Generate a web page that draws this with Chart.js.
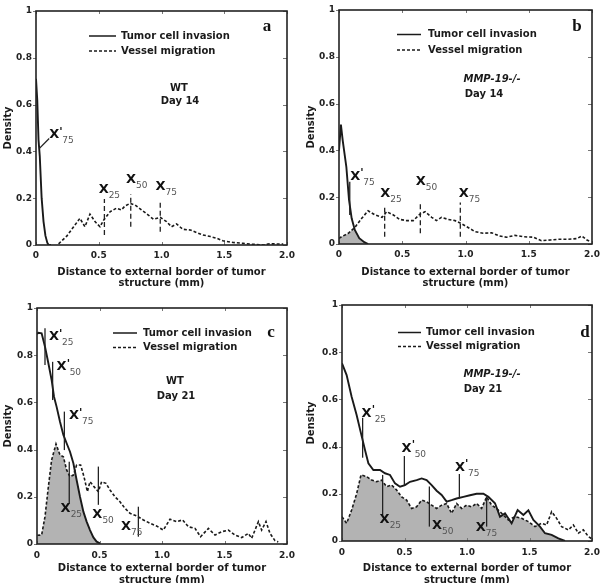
<!DOCTYPE html>
<html>
<head>
<meta charset="utf-8">
<script src="https://cdn.jsdelivr.net/npm/chart.js@4.4.0/dist/chart.umd.min.js"></script>
<style>
html, body { margin: 0; padding: 0; background: #fff; overflow: hidden; }
#wrap { position: relative; width: 606px; height: 583px; overflow: hidden; background: #fff; }
.panel { position: absolute; }
</style>
</head>
<body>
<div id="wrap">
    <div class="panel" style="left:0;top:0"><canvas id="chart-a" width="303" height="290"></canvas></div>
    <div class="panel" style="left:303px;top:0"><canvas id="chart-b" width="303" height="290"></canvas></div>
    <div class="panel" style="left:0;top:290px"><canvas id="chart-c" width="303" height="300"></canvas></div>
    <div class="panel" style="left:303px;top:290px"><canvas id="chart-d" width="303" height="300"></canvas></div>
</div>
<script>
// axis ticks shared by all four panels
const xTickValues = [0, 0.5, 1.0, 1.5, 2.0];
const xTickLabels = ["0", "0.5", "1.0", "1.5", "2.0"];
const yTickValues = [0, 0.2, 0.4, 0.6, 0.8, 1];
const yTickLabels = ["0", "0.2", "0.4", "0.6", "0.8", "1"];
const xTitleLines = ["Distance to external border of tumor", "structure (mm)"];
const yTitle = "Density";
const seriesNames = ["Tumor cell invasion", "Vessel migration"];

// panel a : WT, day 14
const aTumorX = [0, 0.01, 0.02, 0.03, 0.045, 0.06, 0.075, 0.09, 0.1, 0.12];
const aTumorY = [0.71, 0.62, 0.45, 0.38, 0.2, 0.1, 0.04, 0.01, 0, 0];
const aVesselX = [0.18, 0.245, 0.30, 0.35, 0.39, 0.43, 0.47, 0.51, 0.54, 0.59, 0.64, 0.68, 0.71, 0.75, 0.79, 0.84, 0.895, 0.935, 0.99, 1.04, 1.08, 1.12, 1.17, 1.23, 1.28, 1.33, 1.39, 1.44, 1.49, 1.57, 1.65, 1.73, 1.81, 1.86, 1.97];
const aVesselY = [0.005, 0.038, 0.078, 0.114, 0.078, 0.132, 0.1, 0.078, 0.107, 0.142, 0.157, 0.15, 0.167, 0.178, 0.171, 0.15, 0.128, 0.11, 0.118, 0.1, 0.078, 0.09, 0.067, 0.064, 0.053, 0.043, 0.036, 0.029, 0.018, 0.011, 0.007, 0.003, 0, 0.005, 0.004];

// panel b : MMP-19-/-, day 14
const bTumorX = [0, 0.015, 0.03, 0.058, 0.079, 0.1, 0.125, 0.16, 0.2, 0.23];
const bTumorY = [0.4, 0.51, 0.44, 0.33, 0.19, 0.11, 0.06, 0.025, 0.008, 0];
const bVesselX = [0, 0.02, 0.074, 0.126, 0.18, 0.23, 0.285, 0.34, 0.377, 0.43, 0.48, 0.535, 0.587, 0.64, 0.68, 0.733, 0.77, 0.81, 0.864, 0.917, 0.964, 1.01, 1.075, 1.14, 1.207, 1.27, 1.326, 1.39, 1.457, 1.536, 1.60, 1.67, 1.73, 1.81, 1.88, 1.92, 1.96, 1.99];
const bVesselY = [0.024, 0.031, 0.046, 0.071, 0.11, 0.142, 0.124, 0.114, 0.138, 0.124, 0.105, 0.1, 0.1, 0.128, 0.138, 0.114, 0.1, 0.114, 0.105, 0.1, 0.088, 0.074, 0.053, 0.046, 0.048, 0.034, 0.029, 0.037, 0.031, 0.029, 0.014, 0.017, 0.02, 0.02, 0.023, 0.034, 0.017, 0.01];

// panel c : WT, day 21
const cTumorX = [0, 0.011, 0.037, 0.064, 0.091, 0.117, 0.136, 0.157, 0.184, 0.211, 0.237, 0.264, 0.291, 0.317, 0.344, 0.371, 0.397, 0.424, 0.451, 0.477, 0.504];
const cTumorY = [0.89, 0.895, 0.893, 0.836, 0.766, 0.695, 0.624, 0.581, 0.518, 0.462, 0.427, 0.391, 0.342, 0.271, 0.2, 0.137, 0.095, 0.059, 0.028, 0.01, 0.003];
const cVesselX = [0.003, 0.037, 0.064, 0.091, 0.117, 0.152, 0.184, 0.211, 0.237, 0.264, 0.291, 0.317, 0.349, 0.376, 0.403, 0.424, 0.456, 0.491, 0.517, 0.552, 0.584, 0.624, 0.664, 0.704, 0.744, 0.797, 0.851, 0.904, 0.957, 1.011, 1.064, 1.117, 1.165, 1.211, 1.264, 1.309, 1.371, 1.424, 1.477, 1.531, 1.584, 1.637, 1.691, 1.717, 1.744, 1.771, 1.797, 1.832, 1.864, 1.904, 1.93];
const cVesselY = [0.037, 0.038, 0.116, 0.243, 0.356, 0.424, 0.377, 0.37, 0.314, 0.285, 0.292, 0.335, 0.335, 0.285, 0.222, 0.264, 0.243, 0.222, 0.264, 0.257, 0.229, 0.2, 0.179, 0.151, 0.13, 0.119, 0.102, 0.088, 0.076, 0.059, 0.105, 0.095, 0.102, 0.073, 0.066, 0.031, 0.066, 0.038, 0.052, 0.059, 0.038, 0.027, 0.045, 0.024, 0.059, 0.095, 0.059, 0.095, 0.045, 0.014, 0.009];

// panel d : MMP-19-/-, day 21
const dTumorX = [0, 0.037, 0.077, 0.117, 0.152, 0.184, 0.211, 0.251, 0.304, 0.344, 0.384, 0.424, 0.464, 0.504, 0.544, 0.597, 0.637, 0.677, 0.717, 0.757, 0.797, 0.837, 0.877, 0.917, 0.971, 1.024, 1.077, 1.131, 1.171, 1.224, 1.264, 1.304, 1.357, 1.405, 1.451, 1.491, 1.531, 1.584, 1.624, 1.677, 1.731, 1.784];
const dTumorY = [0.753, 0.703, 0.611, 0.534, 0.456, 0.386, 0.329, 0.301, 0.301, 0.287, 0.28, 0.244, 0.23, 0.237, 0.251, 0.258, 0.265, 0.258, 0.237, 0.213, 0.195, 0.167, 0.173, 0.18, 0.187, 0.194, 0.2, 0.2, 0.187, 0.16, 0.103, 0.117, 0.075, 0.131, 0.11, 0.13, 0.089, 0.061, 0.033, 0.026, 0.011, 0];
const dVesselX = [0, 0.037, 0.077, 0.117, 0.152, 0.197, 0.237, 0.277, 0.317, 0.357, 0.397, 0.437, 0.477, 0.517, 0.557, 0.597, 0.637, 0.677, 0.717, 0.757, 0.797, 0.837, 0.877, 0.917, 0.957, 0.997, 1.037, 1.077, 1.117, 1.157, 1.197, 1.237, 1.277, 1.331, 1.384, 1.437, 1.491, 1.544, 1.597, 1.637, 1.677, 1.717, 1.757, 1.811, 1.851, 1.891, 1.931, 1.971, 1.997];
const dVesselY = [0.103, 0.075, 0.131, 0.2, 0.28, 0.273, 0.258, 0.251, 0.258, 0.23, 0.237, 0.216, 0.187, 0.173, 0.138, 0.145, 0.173, 0.166, 0.152, 0.138, 0.152, 0.159, 0.117, 0.159, 0.138, 0.152, 0.145, 0.159, 0.138, 0.187, 0.152, 0.138, 0.117, 0.089, 0.103, 0.096, 0.082, 0.061, 0.075, 0.068, 0.124, 0.096, 0.061, 0.047, 0.068, 0.033, 0.047, 0.019, 0.01];

// quantile markers: x = quantile position, y range of the tick line
// kind "t" = tumor quantile (X'), "v" = vessel quantile (X)
const aQuantiles = [
    {kind: "t", sub: "75", x0: 0.027, y0: 0.413, x1: 0.105, y1: 0.455, lx: 0.145, ly: 0.47},
    {kind: "v", sub: "25", x0: 0.545, y0: 0.043, x1: 0.545, y1: 0.197, lx: 0.539, ly: 0.235},
    {kind: "v", sub: "50", x0: 0.755, y0: 0.078, x1: 0.755, y1: 0.217, lx: 0.757, ly: 0.278},
    {kind: "v", sub: "75", x0: 0.99, y0: 0.057, x1: 0.99, y1: 0.188, lx: 0.993, ly: 0.249},
];
const bQuantiles = [
    {kind: "t", sub: "75", x0: 0.085, y0: 0.124, x1: 0.085, y1: 0.266, lx: 0.129, ly: 0.288},
    {kind: "v", sub: "25", x0: 0.361, y0: 0.031, x1: 0.361, y1: 0.167, lx: 0.366, ly: 0.217},
    {kind: "v", sub: "50", x0: 0.643, y0: 0.046, x1: 0.643, y1: 0.181, lx: 0.646, ly: 0.266},
    {kind: "v", sub: "75", x0: 0.959, y0: 0.031, x1: 0.959, y1: 0.177, lx: 0.986, ly: 0.214},
];
const cQuantiles = [
    {kind: "t", sub: "25", x0: 0.064, y0: 0.759, x1: 0.064, y1: 0.914, lx: 0.136, ly: 0.878},
    {kind: "t", sub: "50", x0: 0.125, y0: 0.61, x1: 0.125, y1: 0.772, lx: 0.197, ly: 0.751},
    {kind: "t", sub: "75", x0: 0.219, y0: 0.398, x1: 0.219, y1: 0.561, lx: 0.296, ly: 0.542},
    {kind: "v", sub: "25", x0: 0.258, y0: 0.172, x1: 0.258, y1: 0.349, lx: 0.229, ly: 0.151},
    {kind: "v", sub: "50", x0: 0.491, y0: 0.166, x1: 0.491, y1: 0.328, lx: 0.483, ly: 0.123},
    {kind: "v", sub: "75", x0: 0.811, y0: 0.031, x1: 0.811, y1: 0.158, lx: 0.712, ly: 0.073},
];
const dQuantiles = [
    {kind: "t", sub: "25", x0: 0.165, y0: 0.353, x1: 0.165, y1: 0.522, lx: 0.197, ly: 0.541},
    {kind: "t", sub: "50", x0: 0.499, y0: 0.237, x1: 0.499, y1: 0.36, lx: 0.517, ly: 0.393},
    {kind: "t", sub: "75", x0: 0.939, y0: 0.18, x1: 0.939, y1: 0.284, lx: 0.944, ly: 0.311},
    {kind: "v", sub: "25", x0: 0.325, y0: 0.109, x1: 0.325, y1: 0.28, lx: 0.341, ly: 0.089},
    {kind: "v", sub: "50", x0: 0.699, y0: 0.061, x1: 0.699, y1: 0.231, lx: 0.76, ly: 0.064},
    {kind: "v", sub: "75", x0: 1.157, y0: 0.061, x1: 1.157, y1: 0.187, lx: 1.11, ly: 0.058},
];

const FONT = "'DejaVu Sans', Verdana, sans-serif";
const INK = "#1a1a1a";
const SHADE = "#b3b3b3";

function toPoints(xs, ys){
    return xs.map((x, i) => ({x: x, y: ys[i]}));
};

// path of the area between a series and the zero line
function areaPath(ctx, xScale, yScale, xs, ys){
    const base = yScale.getPixelForValue(0);
    ctx.beginPath();
    ctx.moveTo(xScale.getPixelForValue(xs[0]), base);
    for (let i = 0; i < xs.length; i++){
        ctx.lineTo(xScale.getPixelForValue(xs[i]), yScale.getPixelForValue(ys[i]));
    };
    ctx.lineTo(xScale.getPixelForValue(xs[xs.length - 1]), base);
    ctx.closePath();
};

function makePanel(canvasId, panel){
    const canvas = document.getElementById(canvasId);
    const W = canvas.width, H = canvas.height;
    const box = panel.box;

    const decor = {
        id: "panelDecor",
        beforeDatasetsDraw(chart){
            // grey overlap of the two densities
            const ctx = chart.ctx, xs = chart.scales.x, ys = chart.scales.y, area = chart.chartArea;
            ctx.save();
            ctx.beginPath();
            ctx.rect(area.left, area.top, area.right - area.left, area.bottom - area.top);
            ctx.clip();
            areaPath(ctx, xs, ys, panel.tumorX, panel.tumorY);
            ctx.clip();
            areaPath(ctx, xs, ys, panel.vesselX, panel.vesselY);
            ctx.fillStyle = SHADE;
            ctx.fill();
            ctx.restore();
        },
        afterDatasetsDraw(chart){
            const ctx = chart.ctx, xs = chart.scales.x, ys = chart.scales.y;
            ctx.save();
            panel.quantiles.forEach(q => {
                ctx.beginPath();
                ctx.strokeStyle = "#222";
                ctx.lineWidth = 1.3;
                ctx.setLineDash(q.kind === "v" && panel.dashedVesselMarks ? [5, 3] : []);
                ctx.moveTo(xs.getPixelForValue(q.x0), ys.getPixelForValue(q.y0));
                ctx.lineTo(xs.getPixelForValue(q.x1), ys.getPixelForValue(q.y1));
                ctx.stroke();

                // label X / X' with subscript
                const lx = xs.getPixelForValue(q.lx), ly = ys.getPixelForValue(q.ly);
                ctx.setLineDash([]);
                ctx.fillStyle = "#111";
                ctx.font = "bold 13px " + FONT;
                ctx.textAlign = "center";
                ctx.textBaseline = "middle";
                ctx.fillText("X", lx, ly);
                let cursor = lx + 5;
                if (q.kind === "t"){
                    ctx.font = "bold 11px " + FONT;
                    ctx.textAlign = "left";
                    ctx.fillText("'", cursor, ly - 3);
                    cursor += 3;
                };
                ctx.font = "9px " + FONT;
                ctx.textAlign = "left";
                ctx.fillStyle = "#555";
                ctx.fillText(q.sub, cursor, ly + 6);
            });
            ctx.restore();
        },
        afterDraw(chart){
            const ctx = chart.ctx, xs = chart.scales.x, ys = chart.scales.y, area = chart.chartArea;
            ctx.save();
            // inward tick marks on all sides
            ctx.strokeStyle = "#777";
            ctx.lineWidth = 1;
            xTickValues.forEach(v => {
                const px = Math.round(xs.getPixelForValue(v)) + 0.5;
                ctx.beginPath();
                ctx.moveTo(px, area.bottom); ctx.lineTo(px, area.bottom - 3);
                ctx.moveTo(px, area.top); ctx.lineTo(px, area.top + 3);
                ctx.stroke();
            });
            yTickValues.forEach(v => {
                const py = Math.round(ys.getPixelForValue(v)) + 0.5;
                ctx.beginPath();
                ctx.moveTo(area.left, py); ctx.lineTo(area.left - 3, py);
                ctx.moveTo(area.right, py); ctx.lineTo(area.right - 4, py);
                ctx.stroke();
            });
            // frame
            ctx.strokeStyle = "#222";
            ctx.lineWidth = 1.6;
            ctx.strokeRect(area.left, area.top, area.right - area.left, area.bottom - area.top);

            // legend
            const lg = panel.legend;
            ctx.lineWidth = 1.5;
            ctx.strokeStyle = INK;
            ctx.beginPath();
            ctx.moveTo(lg.x0, lg.y); ctx.lineTo(lg.x1, lg.y);
            ctx.stroke();
            ctx.setLineDash([3, 2]);
            ctx.beginPath();
            ctx.moveTo(lg.x0, lg.y + lg.gap); ctx.lineTo(lg.x1, lg.y + lg.gap);
            ctx.stroke();
            ctx.setLineDash([]);
            ctx.fillStyle = INK;
            ctx.font = "bold 10px " + FONT;
            ctx.textAlign = "left";
            ctx.textBaseline = "middle";
            ctx.fillText(seriesNames[0], lg.tx, lg.y);
            ctx.fillText(seriesNames[1], lg.tx, lg.y + lg.gap);

            // genotype and day
            ctx.textAlign = "center";
            panel.notes.forEach(n => {
                ctx.font = (n.italic ? "italic " : "") + "bold 10px " + FONT;
                ctx.fillText(n.text, n.x, n.y);
            });

            // panel letter
            ctx.font = "bold 17px 'Liberation Serif', 'Times New Roman', serif";
            ctx.fillStyle = "#111";
            ctx.fillText(panel.letter.text, panel.letter.x, panel.letter.y);
            ctx.restore();
        }
    };

    return new Chart(canvas, {
        type: "line",
        data: {
            datasets: [
                {
                    label: seriesNames[0],
                    data: toPoints(panel.tumorX, panel.tumorY),
                    borderColor: INK,
                    borderWidth: 1.9,
                    pointRadius: 0,
                    fill: false,
                    tension: 0,
                },
                {
                    label: seriesNames[1],
                    data: toPoints(panel.vesselX, panel.vesselY),
                    borderColor: INK,
                    borderWidth: 1.6,
                    borderDash: [3, 2],
                    pointRadius: 0,
                    fill: false,
                    tension: 0,
                }
            ]
        },
        options: {
            responsive: false,
            animation: false,
            events: [],
            layout: {
                padding: {left: 0, top: box.top, right: W - box.right, bottom: 0}
            },
            scales: {
                x: {
                    type: "linear",
                    min: 0,
                    max: 2,
                    afterBuildTicks: scale => { scale.ticks = xTickValues.map(v => ({value: v})); },
                    afterFit: scale => { scale.height = H - box.bottom; },
                    ticks: {
                        callback: (value, index) => xTickLabels[index],
                        font: {family: FONT, size: 9, weight: "bold"},
                        color: "#222",
                        padding: panel.xTickPad,
                        maxRotation: 0,
                        autoSkip: false,
                    },
                    grid: {display: false, drawTicks: false},
                    border: {display: false},
                    title: {
                        display: true,
                        text: xTitleLines,
                        color: INK,
                        font: {family: FONT, size: 10, weight: "bold", lineHeight: 1.15},
                        padding: {top: 0, bottom: panel.xTitlePad},
                    }
                },
                y: {
                    min: 0,
                    max: 1,
                    afterBuildTicks: scale => { scale.ticks = yTickValues.map(v => ({value: v})); },
                    afterFit: scale => { scale.width = box.left; },
                    ticks: {
                        callback: (value, index) => yTickLabels[index],
                        font: {family: FONT, size: 9, weight: "bold"},
                        color: "#222",
                        padding: 4,
                    },
                    grid: {display: false, drawTicks: false},
                    border: {display: false},
                    title: {
                        display: true,
                        text: yTitle,
                        color: INK,
                        font: {family: FONT, size: 10, weight: "bold", lineHeight: 1.2},
                        padding: {top: 2, bottom: 0},
                    }
                }
            },
            plugins: {
                legend: {display: false},
                tooltip: {enabled: false},
            }
        },
        plugins: [decor]
    });
};

makePanel("chart-a", {
    tumorX: aTumorX, tumorY: aTumorY, vesselX: aVesselX, vesselY: aVesselY,
    quantiles: aQuantiles, dashedVesselMarks: true,
    box: {left: 36, right: 287, top: 11, bottom: 245},
    xTickPad: 5, xTitlePad: 0.5,
    legend: {x0: 89, x1: 116, y: 36, gap: 15, tx: 121},
    notes: [{text: "WT", x: 179, y: 88}, {text: "Day 14", x: 180, y: 101}],
    letter: {text: "a", x: 267, y: 27},
});

makePanel("chart-b", {
    tumorX: bTumorX, tumorY: bTumorY, vesselX: bVesselX, vesselY: bVesselY,
    quantiles: bQuantiles, dashedVesselMarks: true,
    box: {left: 36, right: 289, top: 10, bottom: 244},
    xTickPad: 5, xTitlePad: 0.5,
    legend: {x0: 94, x1: 118, y: 34.5, gap: 15.5, tx: 125},
    notes: [{text: "MMP-19-/-", x: 189, y: 79, italic: true}, {text: "Day 14", x: 181, y: 94}],
    letter: {text: "b", x: 274, y: 27},
});

makePanel("chart-c", {
    tumorX: cTumorX, tumorY: cTumorY, vesselX: cVesselX, vesselY: cVesselY,
    quantiles: cQuantiles, dashedVesselMarks: false,
    box: {left: 37, right: 287, top: 18, bottom: 254},
    xTickPad: 6, xTitlePad: 4,
    legend: {x0: 113, x1: 137, y: 43, gap: 14.5, tx: 143},
    notes: [{text: "WT", x: 175, y: 91}, {text: "Day 21", x: 176, y: 106}],
    letter: {text: "c", x: 271, y: 43},
});

makePanel("chart-d", {
    tumorX: dTumorX, tumorY: dTumorY, vesselX: dVesselX, vesselY: dVesselY,
    quantiles: dQuantiles, dashedVesselMarks: false,
    box: {left: 39, right: 289, top: 15, bottom: 251},
    xTickPad: 6, xTitlePad: 4,
    legend: {x0: 95, x1: 118, y: 42.5, gap: 14, tx: 123},
    notes: [{text: "MMP-19-/-", x: 189, y: 84, italic: true}, {text: "Day 21", x: 180, y: 99}],
    letter: {text: "d", x: 282, y: 43},
});
</script>
</body>
</html>
